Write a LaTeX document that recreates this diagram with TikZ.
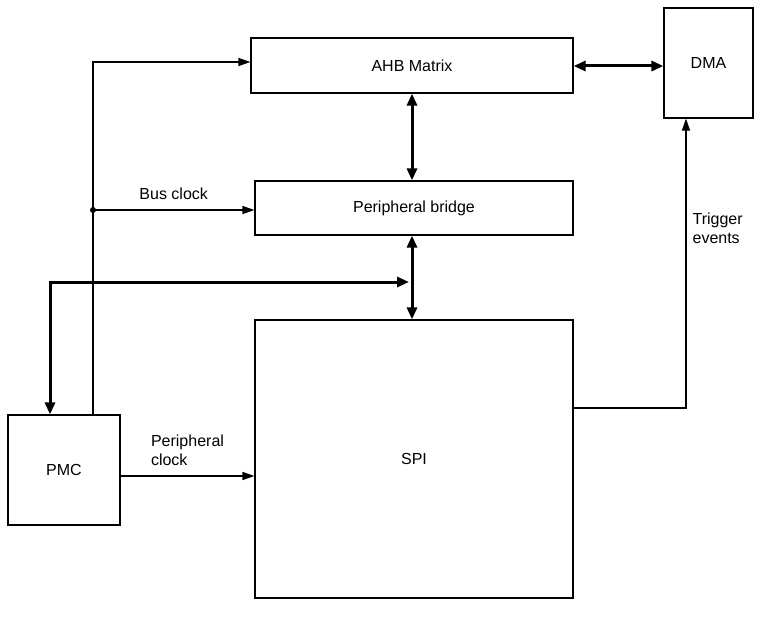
\documentclass[tikz,border=0pt]{standalone}
\usepackage{fontspec}
\setmainfont{Liberation Sans}
\usetikzlibrary{positioning,arrows.meta}

\begin{document}
\begin{tikzpicture}[x=1pt,y=-1pt,
    every node/.style={draw, line width=1.2pt, font=\fontsize{16}{19}\selectfont, inner sep=0pt},
    lbl/.style={draw=none, align=left},
    thin arrow/.style={line width=1.2pt, -{Triangle[length=12pt,width=8pt]}},
    bus arrow/.style={line width=3pt, {Triangle[length=12pt,width=10pt]}-{Triangle[length=12pt,width=10pt]}}]
    \useasboundingbox (0,0) rectangle (776,626);
    % blocks
    \node[minimum width=322pt, minimum height=55pt] (ahb) at (412,65.5) {AHB Matrix};
    \node[minimum width=89pt, minimum height=110pt] (dma) at (708.5,63) {DMA};
    \node[minimum width=318pt, minimum height=54pt] (bridge) at (414,208) {Peripheral bridge};
    \node[minimum width=318pt, minimum height=278pt] (spi) at (414,459) {SPI};
    \node[minimum width=112pt, minimum height=110pt] (pmc) at (64,470) {PMC};
    \coordinate (busjoin) at (93,210);
    \coordinate (apb) at (412,282);
    % clocks
    \draw[thin arrow] (pmc.north -| busjoin) |- (ahb.west |- 0,62);
    \fill (busjoin) circle (3pt);
    \draw[thin arrow] (busjoin) -- node[lbl, above=10pt] {Bus clock} (bridge.west |- busjoin);
    \draw[thin arrow] (pmc.east |- 0,476) -- node[lbl, above=10pt] {Peripheral\\clock} (spi.west |- 0,476);
    % buses
    \draw[bus arrow] (ahb.south -| apb) -- (bridge.north -| apb);
    \draw[bus arrow] (ahb.east |- 0,66) -- (dma.west |- 0,66);
    \draw[bus arrow] (bridge.south -| apb) -- (spi.north -| apb);
    \draw[bus arrow] (pmc.north -| 50,0) |- ([xshift=-3pt]apb);
    % trigger
    \draw[thin arrow] (spi.east |- 0,408) -| node[lbl, pos=0.81, right=6pt] {Trigger\\events} (dma.south -| 686,0);
\end{tikzpicture}
\end{document}
